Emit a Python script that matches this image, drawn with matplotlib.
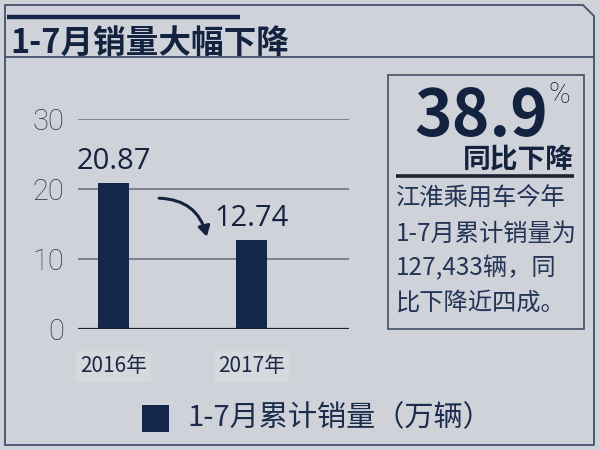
import matplotlib
matplotlib.use("Agg")
import matplotlib.pyplot as plt
from matplotlib.lines import Line2D
from matplotlib.patches import Rectangle

# ---- data ----
categories = ["2016年", "2017年"]
values = [20.87, 12.74]
value_labels = ["20.87", "12.74"]
y_ticks = [0, 10, 20, 30]
title = "1-7月销量大幅下降"
legend_label = "1-7月累计销量（万辆）"
big_number = "38.9"
big_sub = "同比下降"
body_lines = ["江淮乘用车今年", "1-7月累计销量为", "127,433辆，同", "比下降近四成。"]

BG = "#cfd3d9"
NAVY = "#14264a"
TXT = "#1c2c4c"
FRAME = "#4b5973"
CJK = ["Noto Sans CJK SC", "DejaVu Sans"]

W, H = 600, 450
fig = plt.figure(figsize=(6, 4.5), dpi=100, facecolor=BG)

def fx(x):
    return x / W

def fy(y):
    return 1 - y / H

def fline(xs, ys, **kw):
    fig.add_artist(Line2D([fx(x) for x in xs], [fy(y) for y in ys],
                          transform=fig.transFigure, **kw))

# outer frame with cut corner
fline([5, 5, 583, 594, 594, 5], [445, 5, 5, 16, 445, 445], color=FRAME, lw=1.4)
# dark bar above title
fline([7, 240], [16.5, 16.5], color=NAVY, lw=3.2, solid_capstyle="butt")
# title underline
fline([5, 594], [57, 57], color=FRAME, lw=1.4)
fig.text(fx(10), fy(53), title, fontsize=23.5, fontweight="bold", color="#13223f",
         family=CJK, ha="left", va="baseline")

# ---- chart ----
ax = fig.add_axes([fx(78), fy(329), fx(349) - fx(78), (329 - 119) / H])
ax.set_facecolor("none")
xpos = list(range(len(categories)))
bars = ax.bar(xpos, values, width=0.225, color=NAVY, zorder=3)
ax.set_xlim(-0.257, 1.705)
ax.set_ylim(0, 30)
for s in ax.spines.values():
    s.set_visible(False)
ax.set_yticks(y_ticks)
ax.set_yticklabels([str(t) for t in y_ticks])
ax.tick_params(axis="y", length=0, pad=10, labelsize=21, labelcolor="#2f3542")
for lab in ax.get_yticklabels():
    lab.set_family(["Roboto", "DejaVu Sans"])
    lab.set_fontweight("light")
ax.set_xticks([])
for t in y_ticks:
    if t == 0:
        ax.axhline(t, color="#1d2330", lw=1.6, zorder=4)
    else:
        ax.axhline(t, color="#6c7280", lw=1.2, zorder=1)

for x, v, lab in zip(xpos, values, value_labels):
    ax.annotate(lab, (x, v), xytext=(0, 5), textcoords="offset points",
                ha="center", va="bottom", fontsize=21, color="#15233f",
                family=["Open Sans", "DejaVu Sans"])

for x, c in zip(xpos, categories):
    ax.annotate(c, (x, 0), xytext=(0, -27), textcoords="offset points",
                ha="center", va="center", fontsize=15, color="#1c2a48",
                family=CJK,
                bbox=dict(boxstyle="square,pad=0.2", fc="#d5d8dd", ec="none"))

# curved arrow
ax.annotate("", xy=(0.68, 12.8), xytext=(0.31, 18.7),
            arrowprops=dict(arrowstyle="-|>,head_length=0.6,head_width=0.35",
                            color="#15233f", lw=2.2,
                            connectionstyle="arc3,rad=-0.4"))

# ---- right info box ----
fig.add_artist(Rectangle((fx(388), fy(329)), fx(584) - fx(388), (329 - 75) / H,
                         transform=fig.transFigure, fill=False, ec=FRAME, lw=1.3))
fig.text(fx(548), fy(136), big_number, fontsize=46, fontweight="bold", color="#13223f",
         family=CJK, ha="right", va="baseline")
fig.text(fx(548), fy(81), "%", fontsize=21, color="#13223f",
         family=["Roboto", "DejaVu Sans"], fontweight="light", ha="left", va="top")
fig.text(fx(574), fy(168), big_sub, fontsize=20, fontweight="bold", color="#13223f",
         family=CJK, ha="right", va="baseline")
fline([396, 574], [176, 176], color="#1d2330", lw=2.6, solid_capstyle="butt")
for i, line in enumerate(body_lines):
    fig.text(fx(396), fy(199 + i * 34.5), line, fontsize=17.5, color="#233456",
             family=CJK, ha="left", va="center")

# ---- legend ----
fig.add_artist(Rectangle((fx(142), fy(432)), 27 / W, 27 / H,
                         transform=fig.transFigure, fc=NAVY, ec="none"))
fig.text(fx(187), fy(418), legend_label, fontsize=21, color=TXT,
         family=CJK, ha="left", va="center")

fig.savefig("out.png", dpi=100, facecolor=BG)
